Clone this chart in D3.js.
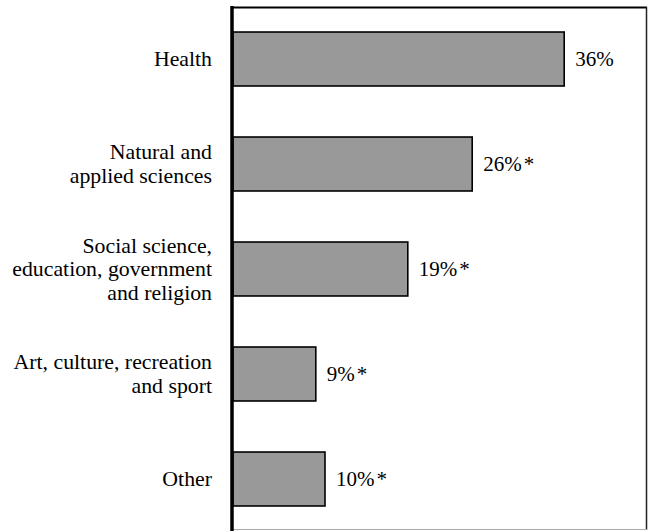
<!DOCTYPE html>
<html><head><meta charset="utf-8">
<script src="https://cdn.jsdelivr.net/npm/d3@7"></script>
</head><body style="margin:0">
<svg id="c" width="648" height="531"></svg>
<script>
const categories = ["Health", "Natural and applied sciences", "Social science, education, government and religion", "Art, culture, recreation and sport", "Other"];
const labelLines = [["Health"], ["Natural and", "applied sciences"], ["Social science,", "education, government", "and religion"], ["Art, culture, recreation", "and sport"], ["Other"]];
const values = [36, 26, 19, 9, 10];
const significant = [false, true, true, true, true];

const svg = d3.select("#c");
const x = d3.scaleLinear().domain([0, 45]).range([233, 647]);
const y = d3.scaleBand().domain(categories).range([6.5, 531.5]).paddingInner(0.486).paddingOuter(0.243);

// frame
svg.append("line").attr("x1", 232).attr("x2", 647).attr("y1", 7.5).attr("y2", 7.5).attr("stroke", "#000").attr("stroke-width", 1.8);
svg.append("line").attr("x1", 646.5).attr("x2", 646.5).attr("y1", 7).attr("y2", 530).attr("stroke", "#222").attr("stroke-width", 1.5);
svg.append("line").attr("x1", 232).attr("x2", 647).attr("y1", 529.5).attr("y2", 529.5).attr("stroke", "#aaa").attr("stroke-width", 1);

// bars
svg.selectAll("rect.bar").data(categories).enter().append("rect")
  .attr("class", "bar")
  .attr("x", x(0))
  .attr("y", d => y(d))
  .attr("width", (d, i) => x(values[i]) - x(0))
  .attr("height", y.bandwidth())
  .attr("fill", "#999999")
  .attr("stroke", "#000")
  .attr("stroke-width", 1.6);

// axis line
svg.append("line").attr("x1", 232).attr("x2", 232).attr("y1", 6).attr("y2", 531).attr("stroke", "#000").attr("stroke-width", 3.5);

// category labels, one text per line
const lineH = 23.5;
categories.forEach((c, i) => {
  const lines = labelLines[i];
  const cy = y(c) + y.bandwidth() / 2;
  lines.forEach((l, j) => {
    svg.append("text").attr("x", 212).attr("y", cy + 7 + (j - (lines.length - 1) / 2) * lineH)
      .attr("text-anchor", "end")
      .style("font-family", "'Liberation Serif'").style("font-size", "21.8px")
      .text(l);
  });
});

// value labels
categories.forEach((c, i) => {
  const cy = y(c) + y.bandwidth() / 2;
  const t = svg.append("text").attr("x", x(values[i]) + 11).attr("y", cy + 7)
    .style("font-family", "'Liberation Serif'").style("font-size", "21px");
  t.append("tspan").text(values[i] + "%");
  if (significant[i]) t.append("tspan").attr("dx", 2).text("*");
});
</script>
</body></html>
